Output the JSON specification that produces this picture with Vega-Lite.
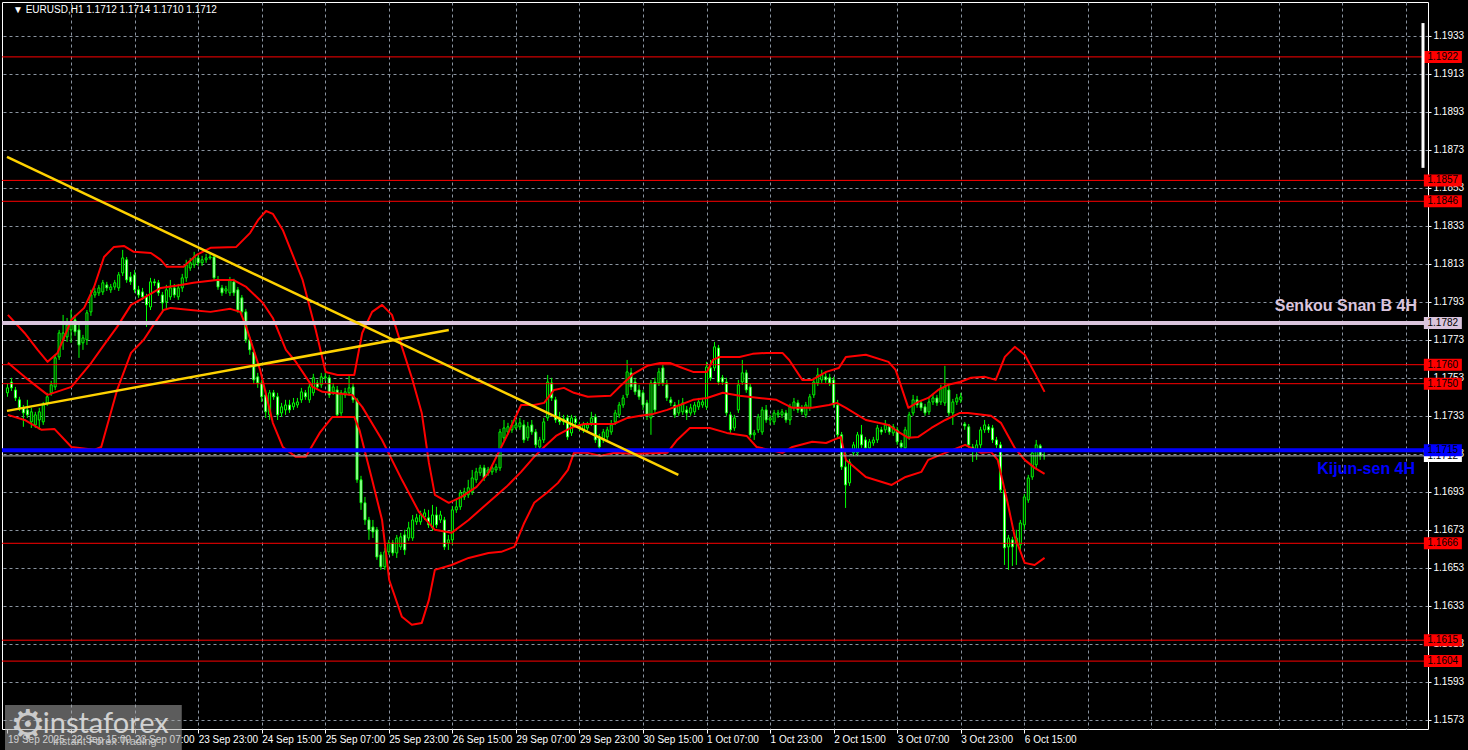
{
  "$schema": "https://vega.github.io/schema/vega-lite/v6.json",
  "width": 1426,
  "height": 727,
  "autosize": {"type": "none"},
  "padding": {"left": 2, "top": 2, "right": 40, "bottom": 21},
  "background": "#000000",
  "config": {
    "view": {"stroke": "#ffffff", "strokeWidth": 1, "fill": "#000000"},
    "axis": {
      "gridColor": "#8a94a0",
      "gridDash": [3, 3],
      "gridWidth": 1,
      "labelColor": "#ffffff",
      "labelFont": "Liberation Sans",
      "labelFontSize": 10,
      "tickColor": "#ffffff",
      "domain": false,
      "title": null
    },
    "text": {"font": "Liberation Sans"}
  },
  "datasets": {
    "candles": [
      {"i":0,"o":1.17452,"h":1.17499,"l":1.17431,"c":1.17478},
      {"i":1,"o":1.17509,"h":1.17531,"l":1.17462,"c":1.17478},
      {"i":2,"o":1.17467,"h":1.17483,"l":1.17409,"c":1.17425},
      {"i":3,"o":1.17415,"h":1.17431,"l":1.17357,"c":1.17373},
      {"i":4,"o":1.17373,"h":1.17388,"l":1.17273,"c":1.17346},
      {"i":5,"o":1.17362,"h":1.17415,"l":1.1732,"c":1.17336},
      {"i":6,"o":1.17299,"h":1.17373,"l":1.17267,"c":1.17352},
      {"i":7,"o":1.17283,"h":1.17352,"l":1.17267,"c":1.17336},
      {"i":8,"o":1.17309,"h":1.17373,"l":1.17257,"c":1.17352},
      {"i":9,"o":1.17299,"h":1.17404,"l":1.17283,"c":1.17388},
      {"i":10,"o":1.17399,"h":1.17452,"l":1.17383,"c":1.17431},
      {"i":11,"o":1.17452,"h":1.17515,"l":1.17436,"c":1.17494},
      {"i":12,"o":1.17483,"h":1.17652,"l":1.17467,"c":1.17636},
      {"i":13,"o":1.17641,"h":1.17783,"l":1.17625,"c":1.17767},
      {"i":14,"o":1.17731,"h":1.17862,"l":1.17678,"c":1.17767},
      {"i":15,"o":1.17746,"h":1.17846,"l":1.1772,"c":1.17809},
      {"i":16,"o":1.17783,"h":1.17888,"l":1.17715,"c":1.17825},
      {"i":17,"o":1.17836,"h":1.17862,"l":1.17752,"c":1.17773},
      {"i":18,"o":1.17783,"h":1.17809,"l":1.17636,"c":1.17704},
      {"i":19,"o":1.17715,"h":1.17757,"l":1.17678,"c":1.17741},
      {"i":20,"o":1.17731,"h":1.17888,"l":1.17704,"c":1.17873},
      {"i":21,"o":1.17878,"h":1.17994,"l":1.17857,"c":1.17967},
      {"i":22,"o":1.17967,"h":1.18004,"l":1.17952,"c":1.17983},
      {"i":23,"o":1.17978,"h":1.1802,"l":1.17962,"c":1.18004},
      {"i":24,"o":1.17983,"h":1.18046,"l":1.17967,"c":1.18031},
      {"i":25,"o":1.1802,"h":1.18036,"l":1.17988,"c":1.18004},
      {"i":26,"o":1.17994,"h":1.18025,"l":1.17978,"c":1.18009},
      {"i":27,"o":1.18009,"h":1.18046,"l":1.17994,"c":1.18031},
      {"i":28,"o":1.18004,"h":1.18088,"l":1.17988,"c":1.18073},
      {"i":29,"o":1.18083,"h":1.18204,"l":1.18067,"c":1.18162},
      {"i":30,"o":1.18152,"h":1.18167,"l":1.18031,"c":1.18046},
      {"i":31,"o":1.18062,"h":1.18088,"l":1.1802,"c":1.18036},
      {"i":32,"o":1.18073,"h":1.18099,"l":1.17978,"c":1.17994},
      {"i":33,"o":1.17994,"h":1.18015,"l":1.17952,"c":1.17967},
      {"i":34,"o":1.17983,"h":1.18004,"l":1.17941,"c":1.17957},
      {"i":35,"o":1.17957,"h":1.17973,"l":1.17799,"c":1.17915},
      {"i":36,"o":1.17904,"h":1.18057,"l":1.17888,"c":1.18036},
      {"i":37,"o":1.18036,"h":1.18052,"l":1.18015,"c":1.18031},
      {"i":38,"o":1.18031,"h":1.18046,"l":1.17962,"c":1.17978},
      {"i":39,"o":1.17967,"h":1.17983,"l":1.17873,"c":1.17925},
      {"i":40,"o":1.17931,"h":1.1802,"l":1.17888,"c":1.17994},
      {"i":41,"o":1.17957,"h":1.18046,"l":1.17941,"c":1.18004},
      {"i":42,"o":1.18004,"h":1.18025,"l":1.17952,"c":1.17967},
      {"i":43,"o":1.17957,"h":1.18025,"l":1.17941,"c":1.18004},
      {"i":44,"o":1.18004,"h":1.18078,"l":1.17983,"c":1.18057},
      {"i":45,"o":1.18057,"h":1.18152,"l":1.18036,"c":1.18125},
      {"i":46,"o":1.18109,"h":1.18162,"l":1.18094,"c":1.18136},
      {"i":47,"o":1.18125,"h":1.18194,"l":1.18109,"c":1.18167},
      {"i":48,"o":1.18162,"h":1.18183,"l":1.1812,"c":1.18136},
      {"i":49,"o":1.18136,"h":1.18173,"l":1.1812,"c":1.18152},
      {"i":50,"o":1.18152,"h":1.18183,"l":1.18136,"c":1.18162},
      {"i":51,"o":1.18162,"h":1.18188,"l":1.18152,"c":1.18167},
      {"i":52,"o":1.18167,"h":1.18183,"l":1.18041,"c":1.18057},
      {"i":53,"o":1.18046,"h":1.18067,"l":1.17994,"c":1.18009},
      {"i":54,"o":1.18004,"h":1.1802,"l":1.17962,"c":1.17978},
      {"i":55,"o":1.17988,"h":1.18015,"l":1.17973,"c":1.17999},
      {"i":56,"o":1.17978,"h":1.18062,"l":1.17962,"c":1.18046},
      {"i":57,"o":1.18036,"h":1.18052,"l":1.17962,"c":1.17978},
      {"i":58,"o":1.17994,"h":1.18009,"l":1.17873,"c":1.17888},
      {"i":59,"o":1.17952,"h":1.17967,"l":1.17862,"c":1.17878},
      {"i":60,"o":1.17878,"h":1.17894,"l":1.17715,"c":1.17731},
      {"i":61,"o":1.17731,"h":1.17746,"l":1.17652,"c":1.17678},
      {"i":62,"o":1.17667,"h":1.17683,"l":1.17499,"c":1.1752},
      {"i":63,"o":1.17536,"h":1.17557,"l":1.17478,"c":1.17504},
      {"i":64,"o":1.17504,"h":1.1752,"l":1.17404,"c":1.17431},
      {"i":65,"o":1.17441,"h":1.17467,"l":1.1732,"c":1.17352},
      {"i":66,"o":1.17336,"h":1.17467,"l":1.17309,"c":1.17452},
      {"i":67,"o":1.17452,"h":1.17467,"l":1.17415,"c":1.17431},
      {"i":68,"o":1.17431,"h":1.17452,"l":1.17309,"c":1.17336},
      {"i":69,"o":1.17346,"h":1.17399,"l":1.17325,"c":1.17378},
      {"i":70,"o":1.17362,"h":1.17415,"l":1.17336,"c":1.17388},
      {"i":71,"o":1.17388,"h":1.17415,"l":1.17346,"c":1.17362},
      {"i":72,"o":1.17378,"h":1.17425,"l":1.17362,"c":1.17399},
      {"i":73,"o":1.17388,"h":1.17425,"l":1.17373,"c":1.17404},
      {"i":74,"o":1.17415,"h":1.17478,"l":1.17399,"c":1.17457},
      {"i":75,"o":1.17452,"h":1.17467,"l":1.17415,"c":1.17431},
      {"i":76,"o":1.17415,"h":1.17504,"l":1.17399,"c":1.17483},
      {"i":77,"o":1.17452,"h":1.17552,"l":1.17436,"c":1.17531},
      {"i":78,"o":1.17504,"h":1.1752,"l":1.17467,"c":1.17483},
      {"i":79,"o":1.17494,"h":1.17557,"l":1.17478,"c":1.17536},
      {"i":80,"o":1.17531,"h":1.17557,"l":1.17515,"c":1.17536},
      {"i":81,"o":1.17531,"h":1.17546,"l":1.17425,"c":1.17441},
      {"i":82,"o":1.17457,"h":1.17504,"l":1.17441,"c":1.17483},
      {"i":83,"o":1.17467,"h":1.17488,"l":1.1732,"c":1.17336},
      {"i":84,"o":1.17346,"h":1.17467,"l":1.17331,"c":1.17452},
      {"i":85,"o":1.17441,"h":1.17478,"l":1.17425,"c":1.17457},
      {"i":86,"o":1.17452,"h":1.17546,"l":1.17436,"c":1.17478},
      {"i":87,"o":1.17483,"h":1.17504,"l":1.17399,"c":1.17415},
      {"i":88,"o":1.17415,"h":1.17425,"l":1.16978,"c":1.16994},
      {"i":89,"o":1.16994,"h":1.17015,"l":1.16836,"c":1.16873},
      {"i":90,"o":1.16873,"h":1.16904,"l":1.16757,"c":1.16783},
      {"i":91,"o":1.16783,"h":1.16799,"l":1.16678,"c":1.16731},
      {"i":92,"o":1.16746,"h":1.16783,"l":1.16688,"c":1.1672},
      {"i":93,"o":1.16731,"h":1.16746,"l":1.16573,"c":1.16588},
      {"i":94,"o":1.16599,"h":1.16615,"l":1.1652,"c":1.16536},
      {"i":95,"o":1.16536,"h":1.16636,"l":1.1652,"c":1.16615},
      {"i":96,"o":1.16615,"h":1.16678,"l":1.16599,"c":1.16662},
      {"i":97,"o":1.16662,"h":1.16678,"l":1.16594,"c":1.16609},
      {"i":98,"o":1.16609,"h":1.16704,"l":1.16583,"c":1.16688},
      {"i":99,"o":1.16641,"h":1.16715,"l":1.16625,"c":1.16694},
      {"i":100,"o":1.16704,"h":1.16731,"l":1.16599,"c":1.16625},
      {"i":101,"o":1.16688,"h":1.16773,"l":1.16673,"c":1.16741},
      {"i":102,"o":1.16688,"h":1.16809,"l":1.16673,"c":1.16783},
      {"i":103,"o":1.16773,"h":1.16815,"l":1.16757,"c":1.16794},
      {"i":104,"o":1.16773,"h":1.16831,"l":1.16757,"c":1.16809},
      {"i":105,"o":1.16799,"h":1.16841,"l":1.16783,"c":1.1682},
      {"i":106,"o":1.16794,"h":1.16836,"l":1.16741,"c":1.16757},
      {"i":107,"o":1.16741,"h":1.16862,"l":1.16725,"c":1.16809},
      {"i":108,"o":1.16809,"h":1.16852,"l":1.16741,"c":1.16757},
      {"i":109,"o":1.16783,"h":1.16831,"l":1.16767,"c":1.16809},
      {"i":110,"o":1.16783,"h":1.16799,"l":1.16625,"c":1.16641},
      {"i":111,"o":1.16662,"h":1.16704,"l":1.16625,"c":1.16678},
      {"i":112,"o":1.16678,"h":1.16857,"l":1.16652,"c":1.16836},
      {"i":113,"o":1.16836,"h":1.16888,"l":1.1682,"c":1.16852},
      {"i":114,"o":1.16852,"h":1.16941,"l":1.16836,"c":1.16925},
      {"i":115,"o":1.16904,"h":1.16952,"l":1.16888,"c":1.16931},
      {"i":116,"o":1.16915,"h":1.16994,"l":1.16899,"c":1.16952},
      {"i":117,"o":1.16931,"h":1.17046,"l":1.16915,"c":1.17004},
      {"i":118,"o":1.16994,"h":1.17057,"l":1.16978,"c":1.17036},
      {"i":119,"o":1.17031,"h":1.17073,"l":1.17015,"c":1.17057},
      {"i":120,"o":1.17057,"h":1.17073,"l":1.16988,"c":1.17004},
      {"i":121,"o":1.17031,"h":1.17062,"l":1.17015,"c":1.17046},
      {"i":122,"o":1.17036,"h":1.17073,"l":1.1702,"c":1.17057},
      {"i":123,"o":1.17046,"h":1.17078,"l":1.17031,"c":1.17062},
      {"i":124,"o":1.17057,"h":1.17262,"l":1.17041,"c":1.17246},
      {"i":125,"o":1.17215,"h":1.17309,"l":1.17199,"c":1.17267},
      {"i":126,"o":1.17246,"h":1.17294,"l":1.17231,"c":1.17273},
      {"i":127,"o":1.17257,"h":1.17309,"l":1.17241,"c":1.17283},
      {"i":128,"o":1.17267,"h":1.17309,"l":1.17257,"c":1.17283},
      {"i":129,"o":1.17273,"h":1.1732,"l":1.17257,"c":1.17294},
      {"i":130,"o":1.17283,"h":1.17309,"l":1.17188,"c":1.17204},
      {"i":131,"o":1.17215,"h":1.17299,"l":1.17199,"c":1.17273},
      {"i":132,"o":1.17283,"h":1.17309,"l":1.17231,"c":1.17246},
      {"i":133,"o":1.17246,"h":1.17262,"l":1.17162,"c":1.17178},
      {"i":134,"o":1.17167,"h":1.1722,"l":1.17141,"c":1.17204},
      {"i":135,"o":1.17204,"h":1.1732,"l":1.17188,"c":1.17299},
      {"i":136,"o":1.1732,"h":1.17546,"l":1.17304,"c":1.17509},
      {"i":137,"o":1.17504,"h":1.17531,"l":1.17409,"c":1.17425},
      {"i":138,"o":1.17415,"h":1.17431,"l":1.17294,"c":1.17309},
      {"i":139,"o":1.1732,"h":1.17352,"l":1.17283,"c":1.17299},
      {"i":140,"o":1.17299,"h":1.17336,"l":1.17283,"c":1.17315},
      {"i":141,"o":1.1732,"h":1.17336,"l":1.17204,"c":1.1722},
      {"i":142,"o":1.17241,"h":1.17336,"l":1.17225,"c":1.1732},
      {"i":143,"o":1.17315,"h":1.17331,"l":1.17278,"c":1.17294},
      {"i":144,"o":1.17283,"h":1.17299,"l":1.17252,"c":1.17267},
      {"i":145,"o":1.17257,"h":1.17299,"l":1.17241,"c":1.17283},
      {"i":146,"o":1.17267,"h":1.17299,"l":1.17252,"c":1.17283},
      {"i":147,"o":1.17294,"h":1.17352,"l":1.17278,"c":1.1732},
      {"i":148,"o":1.17325,"h":1.17341,"l":1.17188,"c":1.17204},
      {"i":149,"o":1.1722,"h":1.17236,"l":1.17141,"c":1.17167},
      {"i":150,"o":1.17204,"h":1.17262,"l":1.17188,"c":1.17246},
      {"i":151,"o":1.1722,"h":1.17273,"l":1.17204,"c":1.17257},
      {"i":152,"o":1.17246,"h":1.17309,"l":1.17231,"c":1.17283},
      {"i":153,"o":1.17299,"h":1.17362,"l":1.17283,"c":1.17346},
      {"i":154,"o":1.17336,"h":1.17404,"l":1.1732,"c":1.17388},
      {"i":155,"o":1.17388,"h":1.17441,"l":1.17373,"c":1.17425},
      {"i":156,"o":1.17441,"h":1.17625,"l":1.17425,"c":1.17562},
      {"i":157,"o":1.17557,"h":1.17583,"l":1.17467,"c":1.17483},
      {"i":158,"o":1.17509,"h":1.17531,"l":1.17441,"c":1.17457},
      {"i":159,"o":1.17467,"h":1.17494,"l":1.17415,"c":1.17431},
      {"i":160,"o":1.17452,"h":1.17467,"l":1.17362,"c":1.17388},
      {"i":161,"o":1.17399,"h":1.17415,"l":1.17309,"c":1.17336},
      {"i":162,"o":1.1732,"h":1.1752,"l":1.17231,"c":1.17504},
      {"i":163,"o":1.17509,"h":1.17531,"l":1.17346,"c":1.17362},
      {"i":164,"o":1.17504,"h":1.17583,"l":1.17488,"c":1.17562},
      {"i":165,"o":1.17583,"h":1.17599,"l":1.17488,"c":1.17504},
      {"i":166,"o":1.17494,"h":1.1752,"l":1.17409,"c":1.17425},
      {"i":167,"o":1.17415,"h":1.17431,"l":1.17383,"c":1.17399},
      {"i":168,"o":1.17388,"h":1.17404,"l":1.1732,"c":1.17336},
      {"i":169,"o":1.17346,"h":1.17415,"l":1.17331,"c":1.17388},
      {"i":170,"o":1.17352,"h":1.17425,"l":1.17336,"c":1.17399},
      {"i":171,"o":1.17362,"h":1.17383,"l":1.17309,"c":1.17346},
      {"i":172,"o":1.17346,"h":1.17394,"l":1.17331,"c":1.17373},
      {"i":173,"o":1.17352,"h":1.17404,"l":1.17336,"c":1.17388},
      {"i":174,"o":1.17378,"h":1.17425,"l":1.17362,"c":1.17404},
      {"i":175,"o":1.17388,"h":1.17425,"l":1.17373,"c":1.17404},
      {"i":176,"o":1.17378,"h":1.17615,"l":1.17362,"c":1.17588},
      {"i":177,"o":1.17583,"h":1.17625,"l":1.17515,"c":1.17531},
      {"i":178,"o":1.17583,"h":1.1772,"l":1.17567,"c":1.17694},
      {"i":179,"o":1.17688,"h":1.17704,"l":1.17494,"c":1.17509},
      {"i":180,"o":1.17531,"h":1.17546,"l":1.17494,"c":1.17509},
      {"i":181,"o":1.17509,"h":1.17531,"l":1.17331,"c":1.17346},
      {"i":182,"o":1.17336,"h":1.17352,"l":1.17241,"c":1.17257},
      {"i":183,"o":1.17267,"h":1.17336,"l":1.17252,"c":1.1732},
      {"i":184,"o":1.17362,"h":1.1752,"l":1.17346,"c":1.17494},
      {"i":185,"o":1.17509,"h":1.17625,"l":1.17494,"c":1.17557},
      {"i":186,"o":1.17557,"h":1.17573,"l":1.17452,"c":1.17467},
      {"i":187,"o":1.17483,"h":1.17499,"l":1.17215,"c":1.17231},
      {"i":188,"o":1.17231,"h":1.17257,"l":1.17204,"c":1.17241},
      {"i":189,"o":1.17257,"h":1.17341,"l":1.17241,"c":1.17325},
      {"i":190,"o":1.17246,"h":1.17378,"l":1.17231,"c":1.17362},
      {"i":191,"o":1.17362,"h":1.17388,"l":1.17294,"c":1.17309},
      {"i":192,"o":1.17309,"h":1.17336,"l":1.17283,"c":1.1732},
      {"i":193,"o":1.17299,"h":1.17362,"l":1.17283,"c":1.17346},
      {"i":194,"o":1.17336,"h":1.17362,"l":1.1732,"c":1.17346},
      {"i":195,"o":1.17336,"h":1.17367,"l":1.1732,"c":1.17352},
      {"i":196,"o":1.17346,"h":1.17362,"l":1.17294,"c":1.17309},
      {"i":197,"o":1.17309,"h":1.17394,"l":1.17283,"c":1.17378},
      {"i":198,"o":1.17373,"h":1.17425,"l":1.17357,"c":1.17404},
      {"i":199,"o":1.17399,"h":1.17415,"l":1.17346,"c":1.17362},
      {"i":200,"o":1.17373,"h":1.17388,"l":1.17336,"c":1.17352},
      {"i":201,"o":1.17336,"h":1.17404,"l":1.1732,"c":1.17388},
      {"i":202,"o":1.17373,"h":1.17446,"l":1.17357,"c":1.17431},
      {"i":203,"o":1.17441,"h":1.17531,"l":1.17425,"c":1.17509},
      {"i":204,"o":1.17504,"h":1.17583,"l":1.17488,"c":1.17546},
      {"i":205,"o":1.1752,"h":1.17573,"l":1.17504,"c":1.17546},
      {"i":206,"o":1.17536,"h":1.17562,"l":1.17504,"c":1.1752},
      {"i":207,"o":1.17531,"h":1.17552,"l":1.17488,"c":1.17504},
      {"i":208,"o":1.1752,"h":1.17536,"l":1.17373,"c":1.17388},
      {"i":209,"o":1.17388,"h":1.17415,"l":1.17215,"c":1.17231},
      {"i":210,"o":1.17231,"h":1.17246,"l":1.17046,"c":1.17062},
      {"i":211,"o":1.17062,"h":1.17157,"l":1.16846,"c":1.16967},
      {"i":212,"o":1.16978,"h":1.17104,"l":1.16962,"c":1.17088},
      {"i":213,"o":1.17136,"h":1.17194,"l":1.1712,"c":1.17178},
      {"i":214,"o":1.17136,"h":1.17246,"l":1.1712,"c":1.17231},
      {"i":215,"o":1.17231,"h":1.17283,"l":1.17162,"c":1.17178},
      {"i":216,"o":1.17204,"h":1.1722,"l":1.17146,"c":1.17162},
      {"i":217,"o":1.17162,"h":1.17209,"l":1.17146,"c":1.17194},
      {"i":218,"o":1.17188,"h":1.1722,"l":1.17173,"c":1.17204},
      {"i":219,"o":1.17204,"h":1.17283,"l":1.17188,"c":1.17267},
      {"i":220,"o":1.17257,"h":1.17273,"l":1.17231,"c":1.17246},
      {"i":221,"o":1.17257,"h":1.17309,"l":1.17241,"c":1.17283},
      {"i":222,"o":1.17273,"h":1.17288,"l":1.17231,"c":1.17246},
      {"i":223,"o":1.17241,"h":1.17288,"l":1.17225,"c":1.17273},
      {"i":224,"o":1.17257,"h":1.17273,"l":1.17178,"c":1.17194},
      {"i":225,"o":1.17188,"h":1.17204,"l":1.17152,"c":1.17167},
      {"i":226,"o":1.17162,"h":1.17273,"l":1.17146,"c":1.17257},
      {"i":227,"o":1.1722,"h":1.17352,"l":1.17204,"c":1.17336},
      {"i":228,"o":1.17346,"h":1.17441,"l":1.17331,"c":1.17415},
      {"i":229,"o":1.17415,"h":1.17436,"l":1.17373,"c":1.17388},
      {"i":230,"o":1.17399,"h":1.17415,"l":1.17357,"c":1.17373},
      {"i":231,"o":1.17378,"h":1.17394,"l":1.17331,"c":1.17346},
      {"i":232,"o":1.17352,"h":1.17425,"l":1.17336,"c":1.17404},
      {"i":233,"o":1.17404,"h":1.17446,"l":1.17388,"c":1.17425},
      {"i":234,"o":1.17425,"h":1.17441,"l":1.17383,"c":1.17399},
      {"i":235,"o":1.17404,"h":1.17494,"l":1.17388,"c":1.17478},
      {"i":236,"o":1.17399,"h":1.17594,"l":1.17383,"c":1.17483},
      {"i":237,"o":1.17467,"h":1.17494,"l":1.17331,"c":1.17346},
      {"i":238,"o":1.17346,"h":1.1742,"l":1.17283,"c":1.17404},
      {"i":239,"o":1.17404,"h":1.17446,"l":1.17388,"c":1.17425},
      {"i":240,"o":1.17415,"h":1.17452,"l":1.17399,"c":1.17431},
      {"i":241,"o":1.17288,"h":1.17299,"l":1.17257,"c":1.17278},
      {"i":242,"o":1.17273,"h":1.17288,"l":1.17162,"c":1.17178},
      {"i":243,"o":1.17167,"h":1.17183,"l":1.17088,"c":1.17152},
      {"i":244,"o":1.17152,"h":1.17204,"l":1.17099,"c":1.17178},
      {"i":245,"o":1.17178,"h":1.17273,"l":1.17162,"c":1.17257},
      {"i":246,"o":1.17257,"h":1.17309,"l":1.17241,"c":1.17283},
      {"i":247,"o":1.17273,"h":1.17288,"l":1.17241,"c":1.17257},
      {"i":248,"o":1.17267,"h":1.17283,"l":1.17188,"c":1.17204},
      {"i":249,"o":1.17204,"h":1.1722,"l":1.17162,"c":1.17178},
      {"i":250,"o":1.17178,"h":1.17194,"l":1.16925,"c":1.16941},
      {"i":251,"o":1.16941,"h":1.16957,"l":1.16546,"c":1.16636},
      {"i":252,"o":1.16641,"h":1.16704,"l":1.1652,"c":1.16688},
      {"i":253,"o":1.16678,"h":1.16694,"l":1.16541,"c":1.16641},
      {"i":254,"o":1.16662,"h":1.16731,"l":1.16546,"c":1.16688},
      {"i":255,"o":1.16652,"h":1.16783,"l":1.16625,"c":1.16767},
      {"i":256,"o":1.16757,"h":1.1692,"l":1.16731,"c":1.16904},
      {"i":257,"o":1.16888,"h":1.1702,"l":1.16873,"c":1.17004},
      {"i":258,"o":1.17009,"h":1.17152,"l":1.16994,"c":1.17136},
      {"i":259,"o":1.17073,"h":1.17204,"l":1.17057,"c":1.17178},
      {"i":260,"o":1.17173,"h":1.17183,"l":1.17099,"c":1.1712},
      {"i":261,"o":1.1712,"h":1.1714,"l":1.171,"c":1.1712}
    ],
    "bands": [
      {"b":"u","i":0.1,"p":1.17862},{"b":"u","i":4.3,"p":1.17767},{"b":"u","i":7.6,"p":1.17678},{"b":"u","i":10.1,"p":1.17615},
      {"b":"u","i":12.6,"p":1.17662},{"b":"u","i":16.1,"p":1.17836},{"b":"u","i":19.3,"p":1.17899},{"b":"u","i":21.8,"p":1.18009},
      {"b":"u","i":24.3,"p":1.18167},{"b":"u","i":26.8,"p":1.1822},{"b":"u","i":29.3,"p":1.18225},{"b":"u","i":31.8,"p":1.18194},
      {"b":"u","i":36.1,"p":1.18188},{"b":"u","i":38.6,"p":1.18152},{"b":"u","i":40.1,"p":1.18115},{"b":"u","i":44.3,"p":1.18115},
      {"b":"u","i":47.6,"p":1.18178},{"b":"u","i":51.1,"p":1.18215},{"b":"u","i":57.6,"p":1.1822},{"b":"u","i":61.1,"p":1.18294},
      {"b":"u","i":63.1,"p":1.18362},{"b":"u","i":65.1,"p":1.18409},{"b":"u","i":66.8,"p":1.18394},{"b":"u","i":69.3,"p":1.18309},
      {"b":"u","i":71.8,"p":1.18178},{"b":"u","i":74.3,"p":1.18046},{"b":"u","i":77.6,"p":1.17783},{"b":"u","i":80.1,"p":1.17562},
      {"b":"u","i":83.1,"p":1.17546},{"b":"u","i":87.3,"p":1.17546},{"b":"u","i":89.3,"p":1.17767},{"b":"u","i":91.8,"p":1.17878},
      {"b":"u","i":94.3,"p":1.17915},{"b":"u","i":96.8,"p":1.17862},{"b":"u","i":99.3,"p":1.17694},{"b":"u","i":101.8,"p":1.17531},
      {"b":"u","i":104.3,"p":1.17346},{"b":"u","i":106.1,"p":1.17083},{"b":"u","i":107.6,"p":1.16915},{"b":"u","i":111.1,"p":1.16873},
      {"b":"u","i":114.3,"p":1.16904},{"b":"u","i":118.1,"p":1.16957},{"b":"u","i":121.1,"p":1.17031},{"b":"u","i":126.1,"p":1.17241},
      {"b":"u","i":129.3,"p":1.17388},{"b":"u","i":132.6,"p":1.17388},{"b":"u","i":135.1,"p":1.17399},{"b":"u","i":137.6,"p":1.17467},
      {"b":"u","i":140.1,"p":1.17478},{"b":"u","i":142.6,"p":1.17452},{"b":"u","i":146.1,"p":1.17431},{"b":"u","i":151.8,"p":1.17436},
      {"b":"u","i":154.3,"p":1.17488},{"b":"u","i":157.6,"p":1.17552},{"b":"u","i":161.1,"p":1.17594},{"b":"u","i":164.3,"p":1.17609},
      {"b":"u","i":166.8,"p":1.17609},{"b":"u","i":169.3,"p":1.17588},{"b":"u","i":172.6,"p":1.17562},{"b":"u","i":176.1,"p":1.17562},
      {"b":"u","i":177.6,"p":1.17625},{"b":"u","i":179.3,"p":1.17641},{"b":"u","i":184.3,"p":1.17641},{"b":"u","i":187.6,"p":1.17657},
      {"b":"u","i":191.1,"p":1.17662},{"b":"u","i":195.1,"p":1.17662},{"b":"u","i":196.8,"p":1.17625},{"b":"u","i":200.1,"p":1.1752},
      {"b":"u","i":202.6,"p":1.1752},{"b":"u","i":206.1,"p":1.17562},{"b":"u","i":209.3,"p":1.17583},{"b":"u","i":211.1,"p":1.17641},
      {"b":"u","i":216.1,"p":1.17652},{"b":"u","i":221.8,"p":1.17615},{"b":"u","i":223.6,"p":1.17573},{"b":"u","i":226.8,"p":1.17373},
      {"b":"u","i":229.3,"p":1.17404},{"b":"u","i":231.8,"p":1.17425},{"b":"u","i":234.3,"p":1.17467},{"b":"u","i":236.8,"p":1.17494},
      {"b":"u","i":239.8,"p":1.17509},{"b":"u","i":242.6,"p":1.17531},{"b":"u","i":246.1,"p":1.17536},{"b":"u","i":248.8,"p":1.1752},
      {"b":"u","i":251.1,"p":1.17641},{"b":"u","i":253.6,"p":1.17694},{"b":"u","i":256.1,"p":1.17652},{"b":"u","i":258.6,"p":1.17557},
      {"b":"u","i":261.1,"p":1.17457},
      {"b":"m","i":0.1,"p":1.1761},{"b":"m","i":4.3,"p":1.17536},{"b":"m","i":10.1,"p":1.17441},{"b":"m","i":16.1,"p":1.17483},
      {"b":"m","i":21.1,"p":1.1761},{"b":"m","i":24.3,"p":1.17704},{"b":"m","i":27.6,"p":1.17799},{"b":"m","i":31.1,"p":1.17915},
      {"b":"m","i":34.3,"p":1.17952},{"b":"m","i":38.6,"p":1.18004},{"b":"m","i":43.6,"p":1.1802},{"b":"m","i":46.8,"p":1.18031},
      {"b":"m","i":52.6,"p":1.18046},{"b":"m","i":56.8,"p":1.18046},{"b":"m","i":60.1,"p":1.18009},{"b":"m","i":64.3,"p":1.17925},
      {"b":"m","i":66.8,"p":1.17846},{"b":"m","i":70.1,"p":1.17678},{"b":"m","i":72.6,"p":1.17615},{"b":"m","i":76.8,"p":1.17483},
      {"b":"m","i":79.3,"p":1.17457},{"b":"m","i":86.8,"p":1.17441},{"b":"m","i":89.3,"p":1.17378},{"b":"m","i":94.3,"p":1.17204},
      {"b":"m","i":99.3,"p":1.16994},{"b":"m","i":103.6,"p":1.16825},{"b":"m","i":107.6,"p":1.16731},{"b":"m","i":111.8,"p":1.16715},
      {"b":"m","i":116.1,"p":1.16783},{"b":"m","i":121.8,"p":1.16888},{"b":"m","i":125.6,"p":1.16957},{"b":"m","i":129.3,"p":1.17036},
      {"b":"m","i":132.6,"p":1.17115},{"b":"m","i":135.1,"p":1.17167},{"b":"m","i":138.1,"p":1.17225},{"b":"m","i":141.8,"p":1.17267},
      {"b":"m","i":145.1,"p":1.17288},{"b":"m","i":152.6,"p":1.17288},{"b":"m","i":156.1,"p":1.1732},{"b":"m","i":159.3,"p":1.17331},
      {"b":"m","i":162.6,"p":1.17341},{"b":"m","i":166.1,"p":1.17362},{"b":"m","i":169.3,"p":1.17388},{"b":"m","i":172.6,"p":1.17415},
      {"b":"m","i":176.1,"p":1.17425},{"b":"m","i":180.1,"p":1.17452},{"b":"m","i":184.3,"p":1.17436},{"b":"m","i":189.3,"p":1.17425},
      {"b":"m","i":193.6,"p":1.17415},{"b":"m","i":197.6,"p":1.17373},{"b":"m","i":202.6,"p":1.17373},{"b":"m","i":206.8,"p":1.17388},
      {"b":"m","i":208.8,"p":1.17399},{"b":"m","i":211.1,"p":1.17373},{"b":"m","i":216.1,"p":1.17309},{"b":"m","i":221.8,"p":1.17283},
      {"b":"m","i":224.3,"p":1.17246},{"b":"m","i":226.8,"p":1.17215},{"b":"m","i":229.3,"p":1.1722},{"b":"m","i":232.6,"p":1.17267},
      {"b":"m","i":236.1,"p":1.17309},{"b":"m","i":239.8,"p":1.17346},{"b":"m","i":241.8,"p":1.17346},{"b":"m","i":247.6,"p":1.17331},
      {"b":"m","i":250.1,"p":1.17294},{"b":"m","i":253.6,"p":1.17162},{"b":"m","i":256.1,"p":1.17099},{"b":"m","i":258.6,"p":1.17057},
      {"b":"m","i":261.1,"p":1.17025},
      {"b":"l","i":0.1,"p":1.17336},{"b":"l","i":4.3,"p":1.17309},{"b":"l","i":8.6,"p":1.17257},{"b":"l","i":11.8,"p":1.17262},
      {"b":"l","i":16.1,"p":1.17167},{"b":"l","i":21.8,"p":1.17152},{"b":"l","i":23.6,"p":1.17167},{"b":"l","i":27.6,"p":1.17467},
      {"b":"l","i":31.1,"p":1.17662},{"b":"l","i":34.3,"p":1.17731},{"b":"l","i":37.6,"p":1.17836},{"b":"l","i":39.3,"p":1.17888},
      {"b":"l","i":41.1,"p":1.17899},{"b":"l","i":46.1,"p":1.17888},{"b":"l","i":51.1,"p":1.17878},{"b":"l","i":56.1,"p":1.17894},
      {"b":"l","i":58.6,"p":1.17878},{"b":"l","i":60.1,"p":1.17799},{"b":"l","i":63.6,"p":1.17573},{"b":"l","i":66.8,"p":1.17294},
      {"b":"l","i":69.3,"p":1.17167},{"b":"l","i":72.6,"p":1.17115},{"b":"l","i":75.1,"p":1.17115},{"b":"l","i":78.6,"p":1.17241},
      {"b":"l","i":81.8,"p":1.17325},{"b":"l","i":87.3,"p":1.17325},{"b":"l","i":88.6,"p":1.17257},{"b":"l","i":91.8,"p":1.16994},
      {"b":"l","i":94.3,"p":1.16783},{"b":"l","i":96.1,"p":1.16467},{"b":"l","i":99.3,"p":1.16273},{"b":"l","i":101.8,"p":1.16231},
      {"b":"l","i":104.3,"p":1.16241},{"b":"l","i":106.1,"p":1.16362},{"b":"l","i":107.6,"p":1.1652},{"b":"l","i":111.8,"p":1.16546},
      {"b":"l","i":116.1,"p":1.16583},{"b":"l","i":121.1,"p":1.16609},{"b":"l","i":124.3,"p":1.16615},{"b":"l","i":127.6,"p":1.16641},
      {"b":"l","i":130.1,"p":1.16767},{"b":"l","i":132.6,"p":1.16873},{"b":"l","i":136.1,"p":1.16931},{"b":"l","i":138.6,"p":1.16978},
      {"b":"l","i":141.1,"p":1.17046},{"b":"l","i":142.6,"p":1.17136},{"b":"l","i":146.1,"p":1.17136},{"b":"l","i":149.3,"p":1.1712},
      {"b":"l","i":152.6,"p":1.17136},{"b":"l","i":157.6,"p":1.17131},{"b":"l","i":166.1,"p":1.17136},{"b":"l","i":168.6,"p":1.17204},
      {"b":"l","i":171.8,"p":1.17267},{"b":"l","i":176.8,"p":1.17267},{"b":"l","i":181.1,"p":1.17241},{"b":"l","i":186.1,"p":1.17225},
      {"b":"l","i":188.6,"p":1.17167},{"b":"l","i":195.1,"p":1.17136},{"b":"l","i":197.6,"p":1.17167},{"b":"l","i":202.6,"p":1.17194},
      {"b":"l","i":206.1,"p":1.17188},{"b":"l","i":209.8,"p":1.1722},{"b":"l","i":211.1,"p":1.17099},{"b":"l","i":216.1,"p":1.17009},
      {"b":"l","i":222.6,"p":1.16967},{"b":"l","i":226.1,"p":1.17009},{"b":"l","i":230.1,"p":1.17036},{"b":"l","i":231.8,"p":1.17099},
      {"b":"l","i":236.1,"p":1.17136},{"b":"l","i":241.1,"p":1.17178},{"b":"l","i":245.1,"p":1.17136},{"b":"l","i":247.6,"p":1.17141},
      {"b":"l","i":249.3,"p":1.17099},{"b":"l","i":251.8,"p":1.16873},{"b":"l","i":253.6,"p":1.16694},{"b":"l","i":256.1,"p":1.16557},
      {"b":"l","i":258.6,"p":1.16546},{"b":"l","i":261.1,"p":1.16583}
    ],
    "trends": [
      {"t":"down","i":-0.125,"p":1.18694},
      {"t":"down","i":168.9,"p":1.1702},
      {"t":"up","i":-0.125,"p":1.17357},
      {"t":"up","i":111.1,"p":1.17783}
    ],
    "levels": [
      {"p":1.1922,"kind":"level"},
      {"p":1.1857,"kind":"level"},
      {"p":1.1846,"kind":"level"},
      {"p":1.176,"kind":"level"},
      {"p":1.175,"kind":"level"},
      {"p":1.1666,"kind":"level"},
      {"p":1.1615,"kind":"level"},
      {"p":1.1604,"kind":"level"},
      {"p":1.1782,"kind":"senkou"},
      {"p":1.1712,"kind":"bid"},
      {"p":1.1715,"kind":"kijun"}
    ],
    "notes": [
      {"label":"Senkou Snan B 4H","p":1.1782},
      {"label":"Kijun-sen 4H","p":1.1715}
    ],
    "one": [{}]
  },
  "layer": [
    {
      "data": {"name": "candles"},
      "mark": {"type": "rule", "color": "#00ff00", "strokeWidth": 1},
      "encoding": {
        "x": {
          "field": "i",
          "type": "quantitative",
          "scale": {"domain": [-0.125, 356.375], "nice": false, "zero": false},
          "axis": {
            "values": [0,8,16,24,32,40,48,56,64,72,80,88,96,104,112,120,128,136,144,152,160,168,176,184,192,200,208,216,224,232,240,248,256,264,272,280,288,296,304,312,320,328,336,344,352],
            "labelExpr": "datum.value % 16 === 0 ? (['19 Sep 2025','22 Sep 15:00','23 Sep 07:00','23 Sep 23:00','24 Sep 15:00','25 Sep 07:00','25 Sep 23:00','26 Sep 15:00','29 Sep 07:00','29 Sep 23:00','30 Sep 15:00','1 Oct 07:00','1 Oct 23:00','2 Oct 15:00','3 Oct 07:00','3 Oct 23:00','6 Oct 15:00'][datum.value / 16] || '') : ''",
            "labelAlign": "left",
            "labelBaseline": "top",
            "labelPadding": 1,
            "labelOffset": 0,
            "labelOverlap": false,
            "labelFlush": false,
            "labelBound": false,
            "tickSize": 4,
            "tickOpacity": {"condition": {"test": "datum.value % 16 === 0 && datum.value <= 256", "value": 1}, "value": 0},
            "gridOpacity": {"condition": {"test": "datum.value > 0", "value": 1}, "value": 0},
            "grid": true,
            "title": null
          }
        },
        "y": {
          "field": "l",
          "type": "quantitative",
          "scale": {"domain": [1.156826, 1.195089], "nice": false, "zero": false},
          "axis": {
            "orient": "right",
            "values": [1.1573,1.1593,1.1613,1.1633,1.1653,1.1673,1.1693,1.1713,1.1733,1.1753,1.1773,1.1793,1.1813,1.1833,1.1853,1.1873,1.1893,1.1913,1.1933],
            "format": ".4f",
            "tickSize": 3,
            "labelPadding": 2,
            "labelOverlap": false,
            "labelFlush": false,
            "grid": true,
            "title": null
          }
        },
        "y2": {"field": "h"}
      }
    },
    {
      "data": {"name": "candles"},
      "mark": {"type": "bar", "width": 2, "stroke": "#00ff00", "strokeWidth": 1},
      "encoding": {
        "x": {"field": "i", "type": "quantitative"},
        "y": {"field": "o", "type": "quantitative"},
        "y2": {"field": "c"},
        "fill": {"condition": {"test": "datum.c < datum.o", "value": "#ffffff"}, "value": "#000000"}
      }
    },
    {
      "data": {"name": "bands"},
      "mark": {"type": "line", "color": "#ff0000", "strokeWidth": 2, "strokeJoin": "round"},
      "encoding": {
        "x": {"field": "i", "type": "quantitative"},
        "y": {"field": "p", "type": "quantitative"},
        "detail": {"field": "b"}
      }
    },
    {
      "data": {"name": "levels"},
      "transform": [{"filter": "datum.kind === 'level'"}],
      "mark": {"type": "rule", "color": "#ff0000", "strokeWidth": 1},
      "encoding": {"y": {"field": "p", "type": "quantitative"}}
    },
    {
      "data": {"name": "levels"},
      "transform": [{"filter": "datum.kind === 'senkou'"}],
      "mark": {"type": "rule", "color": "#dac4dc", "strokeWidth": 4},
      "encoding": {"y": {"field": "p", "type": "quantitative"}}
    },
    {
      "data": {"name": "levels"},
      "transform": [{"filter": "datum.kind === 'bid'"}],
      "mark": {"type": "rule", "color": "#b4b4b4", "strokeWidth": 1},
      "encoding": {"y": {"field": "p", "type": "quantitative"}}
    },
    {
      "data": {"name": "levels"},
      "transform": [{"filter": "datum.kind === 'kijun'"}],
      "mark": {"type": "rule", "color": "#0000ff", "strokeWidth": 4},
      "encoding": {"y": {"field": "p", "type": "quantitative"}}
    },
    {
      "data": {"name": "trends"},
      "mark": {"type": "line", "color": "#ffd200", "strokeWidth": 2.5},
      "encoding": {
        "x": {"field": "i", "type": "quantitative"},
        "y": {"field": "p", "type": "quantitative"},
        "detail": {"field": "t"}
      }
    },
    {
      "data": {"name": "levels"},
      "transform": [{"filter": "datum.kind === 'level'"}],
      "mark": {"type": "point", "shape": "M-1,-0.316L1,-0.316L1,0.316L-1,0.316Z", "size": 1444, "filled": true, "color": "#ff0000", "opacity": 1, "strokeWidth": 0, "clip": false},
      "encoding": {"x": {"datum": 361.375, "type": "quantitative"}, "y": {"field": "p", "type": "quantitative"}}
    },
    {
      "data": {"name": "levels"},
      "transform": [{"filter": "datum.kind === 'senkou'"}],
      "mark": {"type": "point", "shape": "M-1,-0.316L1,-0.316L1,0.316L-1,0.316Z", "size": 1444, "filled": true, "color": "#dac4dc", "opacity": 1, "strokeWidth": 0, "clip": false},
      "encoding": {"x": {"datum": 361.375, "type": "quantitative"}, "y": {"field": "p", "type": "quantitative"}}
    },
    {
      "data": {"name": "levels"},
      "transform": [{"filter": "datum.kind === 'bid'"}],
      "mark": {"type": "point", "shape": "M-1,-0.316L1,-0.316L1,0.316L-1,0.316Z", "size": 1444, "filled": true, "color": "#ffffff", "opacity": 1, "strokeWidth": 0, "clip": false},
      "encoding": {"x": {"datum": 361.375, "type": "quantitative"}, "y": {"field": "p", "type": "quantitative"}}
    },
    {
      "data": {"name": "levels"},
      "transform": [{"filter": "datum.kind === 'bid'"}],
      "mark": {"type": "text", "align": "left", "baseline": "middle", "dx": 2, "fontSize": 10, "color": "#000000", "clip": false},
      "encoding": {"x": {"datum": 357.0, "type": "quantitative"}, "y": {"field": "p", "type": "quantitative"}, "text": {"field": "p", "format": ".4f"}}
    },
    {
      "data": {"name": "levels"},
      "transform": [{"filter": "datum.kind === 'kijun'"}],
      "mark": {"type": "point", "shape": "M-1,-0.316L1,-0.316L1,0.316L-1,0.316Z", "size": 1444, "filled": true, "color": "#0000ff", "opacity": 1, "strokeWidth": 0, "clip": false},
      "encoding": {"x": {"datum": 361.375, "type": "quantitative"}, "y": {"field": "p", "type": "quantitative"}}
    },
    {
      "data": {"name": "levels"},
      "transform": [{"filter": "datum.kind !== 'bid'"}],
      "mark": {"type": "text", "align": "left", "baseline": "middle", "dx": 2, "fontSize": 10, "color": "#000000", "clip": false},
      "encoding": {"x": {"datum": 357.0, "type": "quantitative"}, "y": {"field": "p", "type": "quantitative"}, "text": {"field": "p", "format": ".4f"}}
    },
    {
      "data": {"name": "notes"},
      "transform": [{"filter": "datum.label === 'Senkou Snan B 4H'"}],
      "mark": {"type": "text", "align": "right", "baseline": "middle", "dy": -17, "font": "Liberation Sans", "fontSize": 16, "fontWeight": "bold", "color": "#dac4dc", "clip": false},
      "encoding": {"x": {"datum": 354.875, "type": "quantitative"}, "y": {"field": "p", "type": "quantitative"}, "text": {"field": "label"}}
    },
    {
      "data": {"name": "notes"},
      "transform": [{"filter": "datum.label === 'Kijun-sen 4H'"}],
      "mark": {"type": "text", "align": "right", "baseline": "middle", "dy": 19, "font": "Liberation Sans", "fontSize": 16, "fontWeight": "bold", "color": "#0000ff", "clip": false},
      "encoding": {"x": {"datum": 354.375, "type": "quantitative"}, "y": {"field": "p", "type": "quantitative"}, "text": {"field": "label"}}
    },
    {
      "data": {"name": "one"},
      "mark": {"type": "rule", "color": "#ffffff", "strokeWidth": 3, "clip": false},
      "encoding": {
        "x": {"datum": 356.375, "type": "quantitative"},
        "y": {"datum": 1.19398, "type": "quantitative"},
        "y2": {"datum": 1.18636}
      }
    },
    {
      "data": {"name": "one"},
      "mark": {"type": "text", "align": "left", "baseline": "middle", "dx": 6, "fontSize": 10, "color": "#ffffff", "clip": false},
      "encoding": {
        "x": {"datum": -0.125, "type": "quantitative"},
        "y": {"datum": 1.19467, "type": "quantitative"},
        "text": {"value": "▼ EURUSD,H1  1.1712 1.1714 1.1710 1.1712"}
      }
    },
    {
      "data": {"name": "one"},
      "mark": {"type": "rect", "color": "#a8a8a8", "opacity": 0.55, "clip": false},
      "encoding": {
        "x": {"datum": -0.625, "type": "quantitative"},
        "x2": {"datum": 43.875},
        "y": {"datum": 1.158089, "type": "quantitative"},
        "y2": {"datum": 1.155616}
      }
    },
    {
      "data": {"name": "one"},
      "mark": {"type": "text", "align": "center", "baseline": "middle", "font": "DejaVu Sans", "fontSize": 40, "color": "#d6d6d6", "opacity": 0.9, "clip": false},
      "encoding": {
        "x": {"datum": 5.125, "type": "quantitative"},
        "y": {"datum": 1.156984, "type": "quantitative"},
        "text": {"value": "⚙"}
      }
    },
    {
      "data": {"name": "one"},
      "mark": {"type": "text", "align": "left", "baseline": "alphabetic", "font": "Lato", "fontSize": 29, "color": "#dedede", "opacity": 0.9, "clip": false},
      "encoding": {
        "x": {"datum": 8.875, "type": "quantitative"},
        "y": {"datum": 1.156616, "type": "quantitative"},
        "text": {"value": "instaforex"}
      }
    },
    {
      "data": {"name": "one"},
      "mark": {"type": "text", "align": "left", "baseline": "alphabetic", "font": "Liberation Sans", "fontSize": 11, "color": "#d0d0d0", "opacity": 0.9, "clip": false},
      "encoding": {
        "x": {"datum": 11.375, "type": "quantitative"},
        "y": {"datum": 1.155984, "type": "quantitative"},
        "text": {"value": "Instant Forex Trading"}
      }
    }
  ]
}
